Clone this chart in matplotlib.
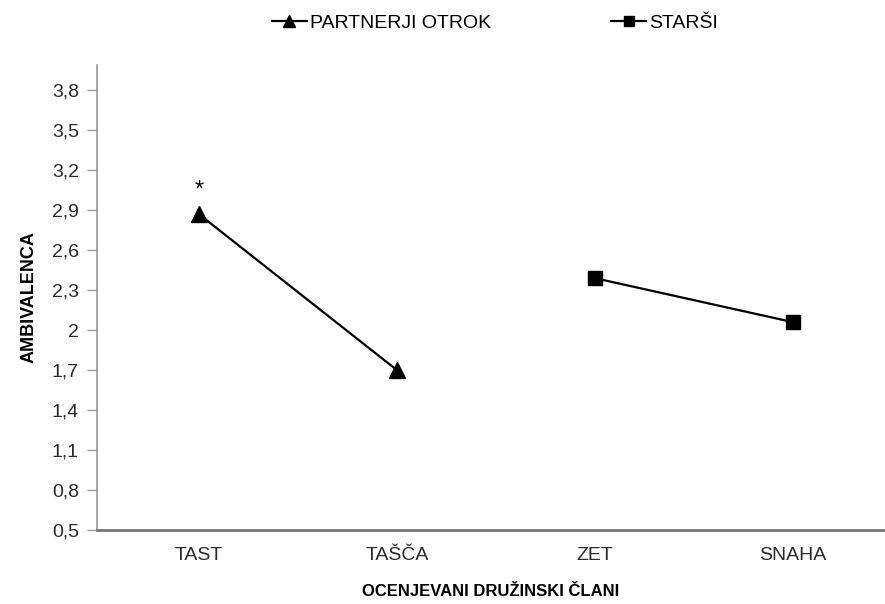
import matplotlib.pyplot as plt
import numpy as np

plt.rcParams['font.family'] = ['Liberation Sans', 'DejaVu Sans']

categories = ['TAST', 'TAŠČA', 'ZET', 'SNAHA']
partnerji_x = [0, 1]
partnerji_y = [2.87, 1.70]
starsi_x = [2, 3]
starsi_y = [2.39, 2.06]
yticks = [0.5, 0.8, 1.1, 1.4, 1.7, 2.0, 2.3, 2.6, 2.9, 3.2, 3.5, 3.8]
ytick_labels = ['0,5', '0,8', '1,1', '1,4', '1,7', '2', '2,3', '2,6', '2,9', '3,2', '3,5', '3,8']

fig = plt.figure(figsize=(8.85, 6.04), dpi=100)
ax = fig.add_axes([97 / 885, 74 / 604, 788 / 885, 465 / 604])

l1, = ax.plot(partnerji_x, partnerji_y, color='black', lw=1.6, marker='^', markersize=11,
              label='PARTNERJI OTROK')
l2, = ax.plot(starsi_x, starsi_y, color='black', lw=1.6, marker='s', markersize=10,
              label='STARŠI')

ax.annotate('*', xy=(partnerji_x[0], partnerji_y[0]), xytext=(0, 9), textcoords='offset points',
            ha='center', va='bottom', fontsize=17, color='black')

ax.set_xlim(-0.515, 3.465)
ax.set_ylim(0.5, 3.99)
ax.set_yticks(yticks)
ax.set_yticklabels(ytick_labels)
ax.set_xticks(range(len(categories)))
ax.set_xticklabels(categories)
ax.tick_params(axis='y', length=7, width=1, color='#999999', labelsize=14,
               labelcolor='#2a2a2a', pad=6)
ax.tick_params(axis='x', length=0, labelsize=14, labelcolor='#2a2a2a', pad=12)

for s in ['top', 'right']:
    ax.spines[s].set_visible(False)
ax.spines['left'].set_color('#999999')
ax.spines['left'].set_linewidth(1.2)
ax.spines['bottom'].set_color('#777777')
ax.spines['bottom'].set_linewidth(2)

ax.set_ylabel('AMBIVALENCA', fontsize=13, fontweight='bold', labelpad=10)
ax.set_xlabel('OCENJEVANI DRUŽINSKI ČLANI', fontsize=12, fontweight='bold', labelpad=15)

fig.legend(handles=[l1, l2], loc='center', bbox_to_anchor=(495 / 885, 1 - 23 / 604), ncol=2,
           frameon=False, fontsize=14, handlelength=1.8, handletextpad=0.15,
           columnspacing=6.2, markerscale=0.75)

fig.savefig('out.png', dpi=100)
